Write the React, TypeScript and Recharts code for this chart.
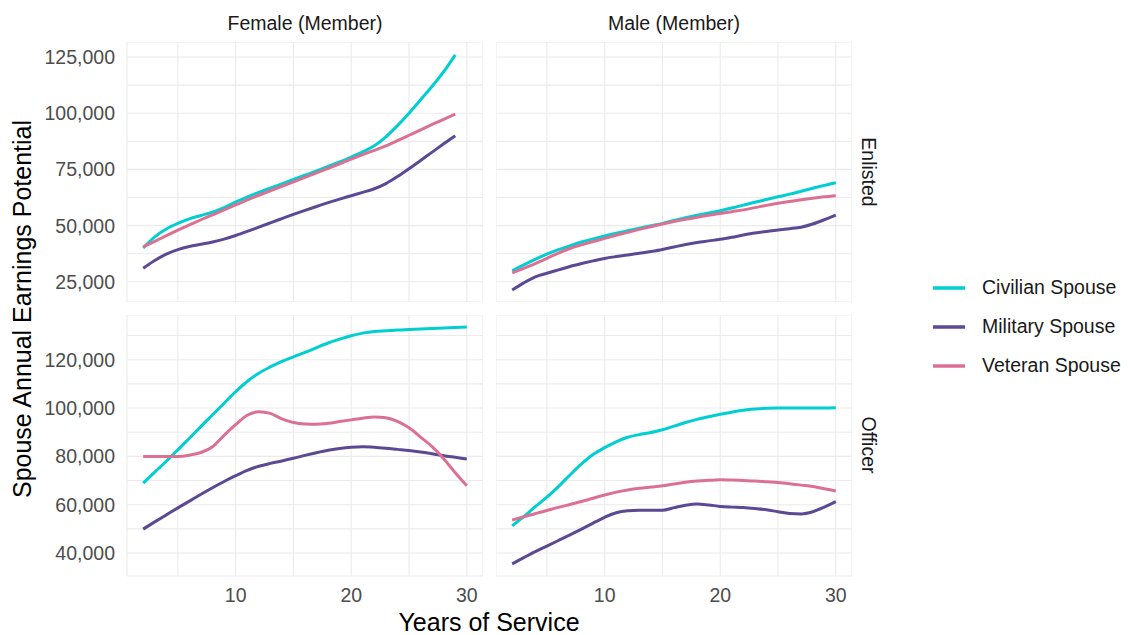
import { CartesianGrid, Line, LineChart, XAxis, YAxis } from "recharts"

const years = [2, 3, 4, 5, 6, 7, 8, 9, 10, 11, 12, 13, 14, 15, 16, 17, 18, 19, 20, 21, 22, 23, 24, 25, 26, 27, 28, 29, 30]

// Female (Member) / Enlisted
const femaleEnlistedCivilian = [40000, 45000, 48500, 51000, 53000, 54500, 56000, 58000, 60500, 62700, 64800, 66700, 68600, 70500, 72400, 74300, 76300, 78300, 80500, 82800, 85500, 89500, 94500, 100000, 106000, 112000, 118500, 126000, null]
const femaleEnlistedMilitary = [31000, 34500, 37300, 39300, 40700, 41700, 42700, 44000, 45600, 47400, 49300, 51200, 53100, 55000, 56800, 58500, 60200, 61800, 63300, 64800, 66400, 68700, 71800, 75300, 79000, 82700, 86400, 90000, null]
const femaleEnlistedVeteran = [40500, 43000, 45500, 48000, 50300, 52600, 54800, 57000, 59200, 61400, 63500, 65500, 67500, 69500, 71500, 73500, 75500, 77500, 79600, 81600, 83500, 85500, 87800, 90200, 92600, 95000, 97300, 99600, null]

// Male (Member) / Enlisted
const maleEnlistedCivilian = [29900, 32500, 35000, 37300, 39300, 41000, 42700, 44100, 45400, 46600, 47700, 48800, 49900, 51000, 52300, 53500, 54600, 55600, 56600, 57800, 59100, 60400, 61600, 62800, 64000, 65300, 66600, 67900, 69100]
const maleEnlistedMilitary = [21300, 24500, 27200, 28800, 30300, 31800, 33100, 34300, 35400, 36200, 36900, 37700, 38500, 39400, 40500, 41600, 42500, 43200, 43900, 44800, 45800, 46700, 47400, 48000, 48600, 49300, 50700, 52600, 54700]
const maleEnlistedVeteran = [29000, 31000, 33100, 35400, 37800, 39800, 41400, 42900, 44300, 45700, 47000, 48300, 49500, 50700, 51800, 52800, 53700, 54600, 55400, 56200, 57000, 58000, 59000, 59900, 60700, 61500, 62200, 62800, 63300]

// Female (Member) / Officer
const femaleOfficerCivilian = [68900, 73500, 78000, 82700, 87500, 92400, 97200, 102000, 106800, 111000, 114400, 117000, 119300, 121200, 123000, 125000, 126900, 128500, 129900, 131000, 131700, 132000, 132300, 132500, 132700, 132900, 133100, 133300, 133500]
const femaleOfficerMilitary = [49900, 52900, 55800, 58700, 61500, 64300, 67000, 69600, 72000, 74200, 75900, 77100, 78100, 79200, 80400, 81500, 82500, 83300, 83800, 84000, 83800, 83400, 82900, 82400, 81800, 81100, 80300, 79600, 78900]
const femaleOfficerVeteran = [80000, 80000, 80000, 80000, 80500, 81600, 84000, 88700, 93100, 97000, 98500, 97800, 95500, 94000, 93400, 93300, 93700, 94400, 95100, 95800, 96300, 96000, 94500, 91800, 88000, 84000, 79000, 73200, 67800]

// Male (Member) / Officer
const maleOfficerCivilian = [51300, 55100, 59200, 63100, 67500, 72300, 76900, 80800, 83600, 86000, 87900, 89000, 89900, 91000, 92500, 94000, 95300, 96400, 97400, 98300, 99100, 99600, 99900, 100000, 100000, 100000, 100000, 100000, 100100]
const maleOfficerMilitary = [35500, 38100, 40600, 42900, 45200, 47500, 49900, 52400, 54800, 56700, 57500, 57700, 57700, 57700, 58800, 59800, 60300, 59900, 59300, 59000, 58800, 58400, 57900, 57100, 56400, 56200, 57100, 59000, 61300]
const maleOfficerVeteran = [53700, 55000, 56300, 57600, 58900, 60100, 61300, 62700, 64000, 65200, 66100, 66800, 67300, 67800, 68600, 69300, 69800, 70100, 70300, 70200, 70000, 69800, 69500, 69200, 68700, 68100, 67500, 66600, 65700]

const seriesNames = ["Civilian Spouse", "Military Spouse", "Veteran Spouse"]
const seriesKeys = ["civilian", "military", "veteran"]
const seriesColors = ["#00CED1", "#5B4A93", "#DB7093"]

const xMajor = [10, 20, 30]
const xMinor = [5, 15, 25]
const enlistedMajor = [25000, 50000, 75000, 100000, 125000]
const enlistedMinor = [37500, 62500, 87500, 112500]
const officerMajor = [40000, 60000, 80000, 100000, 120000]
const officerMinor = [50000, 70000, 90000, 110000, 130000]

const xDomain = [0.6, 31.4]
const enlistedDomain = [16000, 131700]
const officerDomain = [30500, 138500]

const font = "'Liberation Sans', Arial, sans-serif"
const tickStyle = { fill: "#4D4D4D", fontSize: 19.5 }

function toRows(civ: (number | null)[], mil: (number | null)[], vet: (number | null)[]) {
  return years.map((year, i) => ({ year, civilian: civ[i], military: mil[i], veteran: vet[i] }))
}

type PanelProps = {
  rows: any[]
  left: number
  top: number
  height: number
  yDomain: number[]
  yMajor: number[]
  yMinor: number[]
  yLabels: boolean
  xLabels: boolean
}

function Panel({ rows, left, top, height, yDomain, yMajor, yMinor, yLabels, xLabels }: PanelProps) {
  const yAxisW = yLabels ? 127 : 0
  const xAxisH = xLabels ? 40 : 0
  const width = 356
  return (
    <div style={{ position: "absolute", left: left - yAxisW, top }}>
      <LineChart
        width={width + yAxisW}
        height={height + xAxisH}
        data={rows}
        margin={{ top: 0, right: 0, bottom: 0, left: 0 }}
      >
        <CartesianGrid stroke="#EBEBEB" strokeWidth={1.1} />
        <XAxis
          type="number"
          dataKey="year"
          domain={xDomain}
          allowDataOverflow
          ticks={[...xMinor, ...xMajor].sort((a, b) => a - b)}
          tickFormatter={(v: number) => (xMajor.includes(v) ? String(v) : "")}
          hide={!xLabels}
          height={xAxisH}
          axisLine={false}
          tickLine={false}
          tickSize={0}
          tickMargin={12}
          tick={tickStyle}
        />
        <YAxis
          type="number"
          domain={yDomain}
          allowDataOverflow
          ticks={[...yMinor, ...yMajor].sort((a, b) => a - b)}
          tickFormatter={(v: number) => (yMajor.includes(v) ? v.toLocaleString("en-US") : "")}
          hide={!yLabels}
          width={yAxisW}
          axisLine={false}
          tickLine={false}
          tickSize={0}
          tickMargin={12}
          tick={tickStyle}
        />
        {seriesKeys.map((key, i) => (
          <Line
            key={key}
            type="monotone"
            dataKey={key}
            stroke={seriesColors[i]}
            strokeWidth={3}
            dot={false}
            activeDot={false}
            isAnimationActive={false}
          />
        ))}
      </LineChart>
    </div>
  )
}

const label = (text: string, x: number, y: number, size: number, color: string, rotate = 0) => (
  <div
    style={{
      position: "absolute",
      left: x,
      top: y,
      transform: `translate(-50%, -50%) rotate(${rotate}deg)`,
      fontSize: size,
      color,
      whiteSpace: "nowrap",
      lineHeight: 1,
    }}
  >
    {text}
  </div>
)

export default function App() {
  return (
    <div
      style={{
        position: "fixed",
        left: 0,
        top: 0,
        width: 1130,
        height: 635,
        background: "#fff",
        fontFamily: font,
        overflow: "hidden",
      }}
    >
      <Panel
        rows={toRows(femaleEnlistedCivilian, femaleEnlistedMilitary, femaleEnlistedVeteran)}
        left={127}
        top={42}
        height={260}
        yDomain={enlistedDomain}
        yMajor={enlistedMajor}
        yMinor={enlistedMinor}
        yLabels
        xLabels={false}
      />
      <Panel
        rows={toRows(maleEnlistedCivilian, maleEnlistedMilitary, maleEnlistedVeteran)}
        left={496}
        top={42}
        height={260}
        yDomain={enlistedDomain}
        yMajor={enlistedMajor}
        yMinor={enlistedMinor}
        yLabels={false}
        xLabels={false}
      />
      <Panel
        rows={toRows(femaleOfficerCivilian, femaleOfficerMilitary, femaleOfficerVeteran)}
        left={127}
        top={315}
        height={261}
        yDomain={officerDomain}
        yMajor={officerMajor}
        yMinor={officerMinor}
        yLabels
        xLabels
      />
      <Panel
        rows={toRows(maleOfficerCivilian, maleOfficerMilitary, maleOfficerVeteran)}
        left={496}
        top={315}
        height={261}
        yDomain={officerDomain}
        yMajor={officerMajor}
        yMinor={officerMinor}
        yLabels={false}
        xLabels
      />

      {label("Female (Member)", 305, 24, 19.5, "#1A1A1A")}
      {label("Male (Member)", 674, 24, 19.5, "#1A1A1A")}
      {label("Enlisted", 868, 172, 19.5, "#1A1A1A", 90)}
      {label("Officer", 868, 445, 19.5, "#1A1A1A", 90)}
      {label("Spouse Annual Earnings Potential", 22, 309, 25, "#000", -90)}
      {label("Years of Service", 489, 622, 25, "#000")}

      {seriesNames.map((name, i) => (
        <div key={name} style={{ position: "absolute", left: 932, top: 288 + i * 39 - 12, height: 24 }}>
          <svg width={34} height={24} style={{ position: "absolute", left: 0, top: 0 }}>
            <line x1={1} x2={33} y1={12} y2={12} stroke={seriesColors[i]} strokeWidth={3.5} />
          </svg>
          <div style={{ position: "absolute", left: 50, top: 12, transform: "translateY(-50%)", fontSize: 19.5, whiteSpace: "nowrap", color: "#1A1A1A", lineHeight: 1 }}>
            {name}
          </div>
        </div>
      ))}
    </div>
  )
}
